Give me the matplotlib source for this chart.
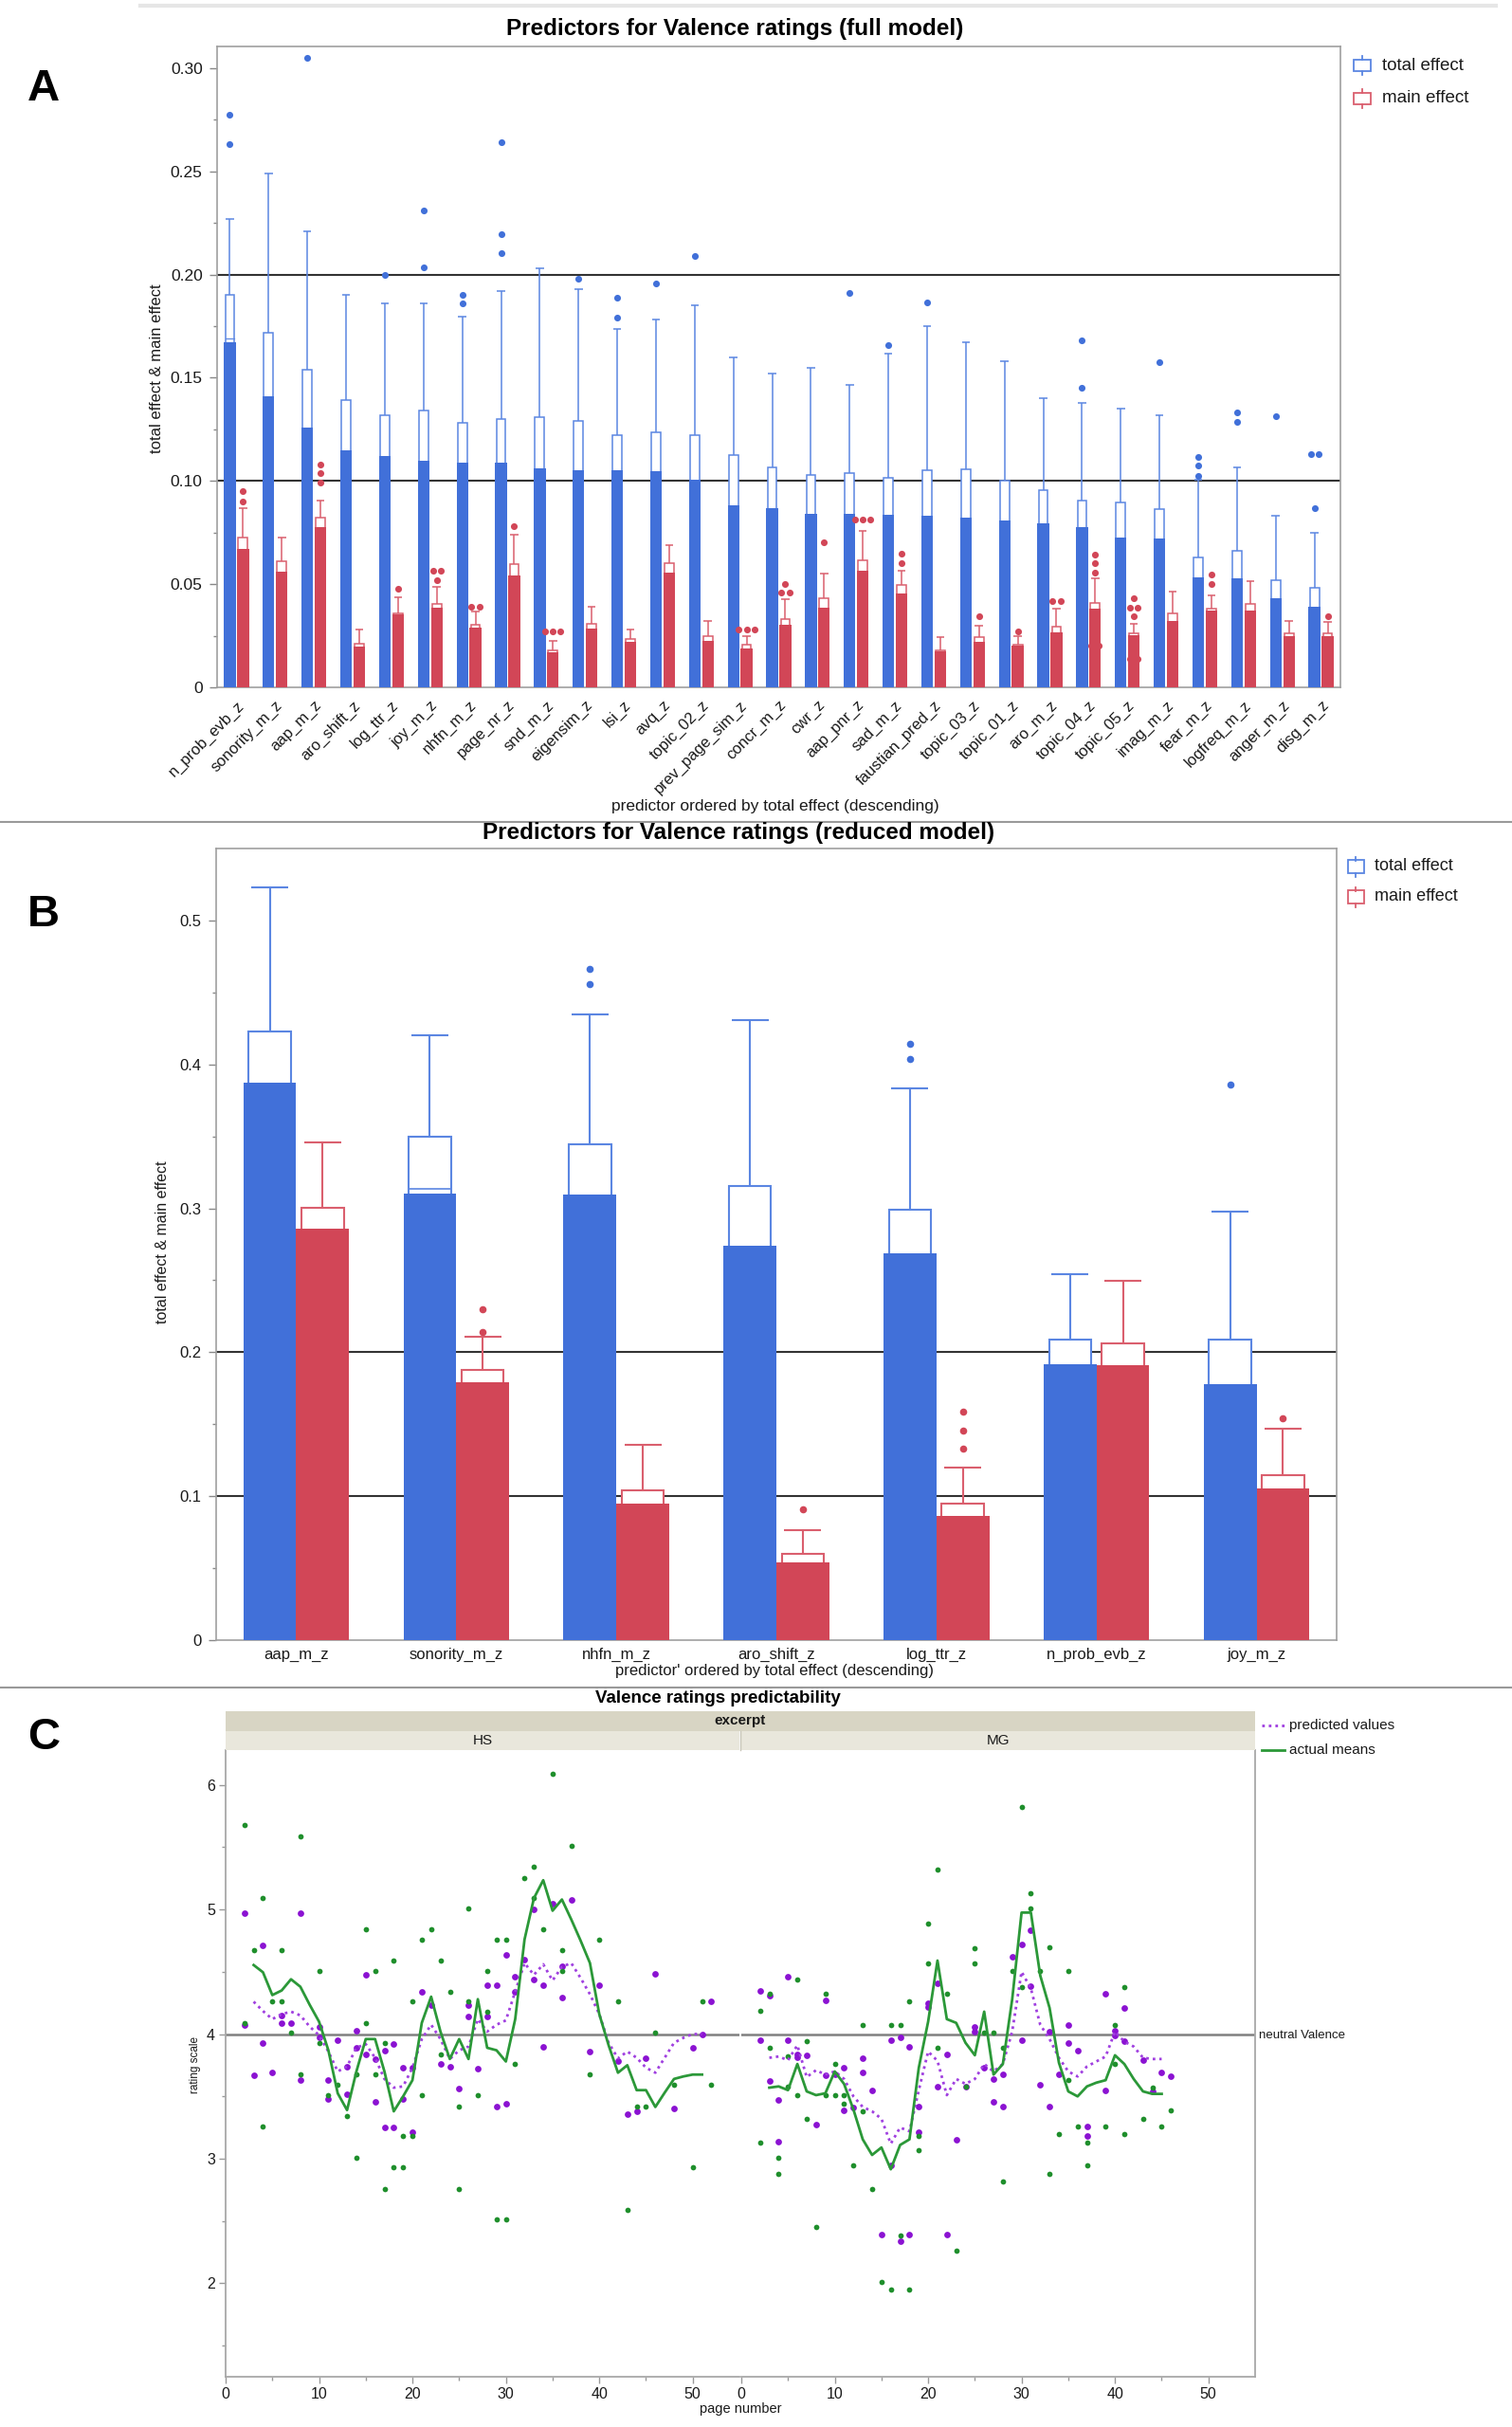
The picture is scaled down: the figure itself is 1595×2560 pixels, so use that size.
import numpy as np
import matplotlib
matplotlib.use('Agg')
import matplotlib.pyplot as plt
import matplotlib.transforms as mtransforms
from matplotlib.patches import Rectangle
from matplotlib.lines import Line2D

# ---------------- panel A: full model ----------------
a_names = ['n_prob_evb_z', 'sonority_m_z', 'aap_m_z', 'aro_shift_z', 'log_ttr_z', 'joy_m_z',
           'nhfn_m_z', 'page_nr_z', 'snd_m_z', 'eigensim_z', 'lsi_z', 'avq_z', 'topic_02_z',
           'prev_page_sim_z', 'concr_m_z', 'cwr_z', 'aap_pnr_z', 'sad_m_z', 'faustian_pred_z',
           'topic_03_z', 'topic_01_z', 'aro_m_z', 'topic_04_z', 'topic_05_z', 'imag_m_z',
           'fear_m_z', 'logfreq_m_z', 'anger_m_z', 'disg_m_z']
a_total_bar = [0.167, 0.141, 0.126, 0.115, 0.112, 0.110, 0.109, 0.109, 0.106, 0.105, 0.105,
               0.1045, 0.1004, 0.088, 0.087, 0.084, 0.084, 0.0838, 0.0833, 0.082, 0.0807,
               0.0795, 0.0774, 0.0726, 0.0723, 0.0535, 0.0527, 0.043, 0.0392]
a_total_q3 = [0.190, 0.172, 0.154, 0.139, 0.132, 0.134, 0.128, 0.130, 0.131, 0.129, 0.122,
              0.1235, 0.122, 0.1126, 0.1067, 0.103, 0.1037, 0.1014, 0.105, 0.1057, 0.100,
              0.0955, 0.0904, 0.0897, 0.0863, 0.063, 0.066, 0.052, 0.0484]
a_total_whisk = [0.227, 0.249, 0.221, 0.190, 0.186, 0.186, 0.1796, 0.192, 0.203, 0.193, 0.1737,
                 0.178, 0.185, 0.160, 0.152, 0.1546, 0.1467, 0.1615, 0.175, 0.1673, 0.158,
                 0.140, 0.138, 0.135, 0.132, 0.1006, 0.1067, 0.0833, 0.0749]
a_total_med = [0.169] + [np.nan] * 28
a_total_out = [[0.263, 0.2776], [], [0.305], [], [0.200], [0.2035, 0.231], [0.186, 0.190],
               [0.2104, 0.2196, 0.264], [], [0.198], [0.179, 0.189], [0.1956], [0.209], [], [],
               [], [0.191], [0.166], [0.1867], [], [], [], [0.145, 0.168], [], [0.1577],
               [0.1024, 0.1075, 0.1118], [0.1284, 0.133], [0.1314], [0.0869, 0.1128, 0.1128]]
a_main_bar = [0.0672, 0.056, 0.0774, 0.0196, 0.0354, 0.0387, 0.029, 0.054, 0.017, 0.0285, 0.022,
              0.0558, 0.0227, 0.019, 0.0303, 0.0387, 0.0565, 0.0456, 0.0176, 0.022, 0.020,
              0.0265, 0.038, 0.0252, 0.0323, 0.0374, 0.0374, 0.0247, 0.0247]
a_main_q3 = [0.0728, 0.061, 0.082, 0.021, 0.036, 0.0405, 0.0303, 0.0596, 0.018, 0.031, 0.0234,
             0.0604, 0.0247, 0.0205, 0.0329, 0.043, 0.0616, 0.0494, 0.018, 0.0242, 0.0205,
             0.0295, 0.041, 0.026, 0.036, 0.038, 0.0405, 0.026, 0.026]
a_main_whisk = [0.0869, 0.0726, 0.0907, 0.0278, 0.0436, 0.0487, 0.0367, 0.0739, 0.0227, 0.039,
                0.0278, 0.0688, 0.0323, 0.0247, 0.0425, 0.0553, 0.076, 0.0565, 0.0242, 0.0298,
                0.0247, 0.038, 0.0527, 0.031, 0.0464, 0.0446, 0.0515, 0.0323, 0.0316]
a_main_med = [np.nan] * 29
a_main_out = [[0.090, 0.095], [], [0.0993, 0.1037, 0.108], [], [0.0476], [0.0517, 0.0563, 0.0563],
              [0.0392, 0.0392], [0.078], [0.027, 0.027, 0.027], [], [], [], [],
              [0.028, 0.028, 0.028], [0.0458, 0.0458, 0.050], [0.0705], [0.0813, 0.0813, 0.0813],
              [0.0604, 0.0647], [], [0.0344], [0.027], [0.0418, 0.0418],
              [0.020, 0.020, 0.0558, 0.060, 0.0644], [0.014, 0.014, 0.0344, 0.0387, 0.0387, 0.043],
              [], [0.050, 0.0548], [], [], [0.0344]]

# ---------------- panel B: reduced model ----------------
b_names = ['aap_m_z', 'sonority_m_z', 'nhfn_m_z', 'aro_shift_z', 'log_ttr_z', 'n_prob_evb_z', 'joy_m_z']
b_total_bar = [0.387, 0.310, 0.3095, 0.274, 0.269, 0.192, 0.178]
b_total_q3 = [0.423, 0.3495, 0.3445, 0.3154, 0.299, 0.209, 0.209]
b_total_whisk = [0.523, 0.4205, 0.4348, 0.431, 0.3836, 0.2545, 0.2975]
b_total_med = [np.nan, 0.3134, np.nan, np.nan, np.nan, np.nan, np.nan]
b_total_out = [[], [], [0.4558, 0.4663], [], [0.404, 0.414], [], [0.386]]
b_main_bar = [0.2859, 0.1792, 0.0946, 0.0543, 0.0865, 0.1908, 0.1055]
b_main_q3 = [0.3006, 0.1874, 0.1043, 0.060, 0.0946, 0.2064, 0.1148]
b_main_whisk = [0.3456, 0.211, 0.1354, 0.0764, 0.120, 0.2494, 0.147]
b_main_med = [np.nan] * 7
b_main_out = [[], [0.214, 0.2296], [], [0.0908], [0.133, 0.1458, 0.1587], [], [0.1544]]

# ---------------- panel C: predictability ----------------
hs_act_page = [2, 2, 3, 4, 4, 5, 6, 6, 7, 8, 8, 10, 10, 11, 12, 13, 14, 14, 15, 15, 16, 16, 17, 17,
               18, 18, 19, 19, 20, 20, 21, 21, 22, 23, 23, 24, 25, 25, 26, 26, 27, 28, 28, 29, 29,
               30, 30, 31, 32, 33, 33, 34, 35, 36, 36, 37, 39, 40, 42, 43, 44, 45, 46, 48, 50, 51, 52]
hs_act_val = [5.675, 4.09, 4.675, 5.09, 3.26, 4.26, 4.675, 4.26, 4.01, 5.59, 3.675, 4.51, 3.93,
              3.51, 3.59, 3.34, 3.675, 3.01, 4.84, 4.09, 4.51, 3.675, 3.93, 2.76, 4.59, 2.93, 3.18,
              2.93, 4.26, 3.18, 4.76, 3.51, 4.84, 4.59, 3.84, 4.34, 3.42, 2.76, 5.01, 4.26, 3.51,
              4.51, 4.18, 4.76, 2.51, 4.76, 2.51, 3.76, 5.255, 5.34, 5.09, 4.84, 6.087, 4.675, 4.51,
              5.51, 3.675, 4.76, 4.26, 2.59, 3.42, 3.42, 4.01, 3.59, 2.93, 4.26, 3.59]
hs_pred_page = [2, 2, 3, 4, 4, 5, 6, 6, 7, 8, 8, 10, 10, 11, 11, 12, 13, 13, 14, 14, 15, 15, 16, 16,
                17, 17, 18, 18, 19, 19, 20, 20, 21, 22, 23, 24, 25, 26, 26, 27, 28, 28, 29, 29, 30,
                30, 31, 31, 32, 33, 33, 34, 34, 35, 36, 36, 37, 39, 40, 42, 43, 44, 45, 46, 48, 50, 51, 52]
hs_pred_val = [4.97, 4.075, 3.67, 4.71, 3.93, 3.69, 4.15, 4.09, 4.09, 4.97, 3.63, 4.06, 3.97, 3.63,
               3.48, 3.95, 3.74, 3.52, 4.03, 3.89, 4.475, 3.84, 3.80, 3.46, 3.87, 3.25, 3.92, 3.25,
               3.73, 3.48, 3.73, 3.21, 4.34, 4.23, 3.76, 3.74, 3.56, 4.23, 4.14, 3.72, 4.39, 4.14,
               4.39, 3.415, 4.635, 3.44, 4.46, 4.34, 4.60, 5.00, 4.435, 4.39, 3.90, 5.045, 4.545,
               4.29, 5.075, 3.86, 4.39, 3.785, 3.36, 3.38, 3.81, 4.48, 3.40, 3.89, 4.00, 4.26]
hs_line_page = list(range(3, 52))
hs_mean_line = [4.554, 4.496, 4.313, 4.35, 4.44, 4.38, 4.235, 4.10, 3.87, 3.525, 3.39, 3.70, 3.96,
                3.96, 3.70, 3.38, 3.50, 3.63, 4.09, 4.30, 4.02, 3.80, 3.96, 3.80, 4.28, 3.89, 3.87,
                3.78, 4.12, 4.76, 5.09, 5.235, 4.99, 5.08, 4.92, 4.75, 4.57, 4.16, 3.91, 3.69, 3.75,
                3.55, 3.55, 3.415, 3.53, 3.64, 3.66, 3.675, 3.675]
hs_pred_line = [4.26, 4.185, 4.12, 4.16, 4.18, 4.15, 4.06, 3.99, 3.86, 3.70, 3.74, 3.89, 3.92, 3.81,
                3.64, 3.57, 3.58, 3.73, 3.96, 4.075, 3.96, 3.80, 3.87, 3.90, 4.12, 4.02, 4.075, 4.11,
                4.34, 4.57, 4.475, 4.56, 4.43, 4.54, 4.57, 4.45, 4.32, 4.16, 3.93, 3.805, 3.86, 3.81,
                3.73, 3.69, 3.81, 3.93, 3.97, 4.00, 4.00]

mg_act_page = [2, 2, 3, 3, 4, 4, 5, 5, 6, 6, 7, 7, 8, 9, 9, 10, 10, 11, 11, 12, 13, 13, 14, 15, 16,
               16, 17, 17, 18, 18, 19, 19, 20, 20, 21, 21, 22, 23, 24, 25, 25, 26, 27, 28, 28, 29,
               30, 30, 31, 31, 32, 33, 33, 34, 35, 35, 36, 37, 37, 39, 40, 40, 41, 41, 43, 44, 45, 46]
mg_act_val = [4.19, 3.13, 4.32, 3.89, 3.01, 2.88, 3.82, 3.58, 4.44, 3.51, 3.945, 3.32, 2.45, 4.32,
              3.51, 3.76, 3.51, 3.51, 3.44, 2.945, 4.075, 3.38, 2.76, 2.01, 4.075, 1.95, 4.075, 2.385,
              4.26, 1.95, 3.185, 3.07, 4.885, 4.57, 5.32, 3.89, 4.32, 2.26, 3.58, 4.69, 4.57, 4.01,
              4.01, 3.89, 2.82, 4.51, 5.82, 4.38, 5.13, 5.01, 4.51, 4.70, 2.88, 3.20, 4.51, 3.635,
              3.26, 3.13, 2.945, 3.26, 4.075, 3.76, 4.38, 3.20, 3.32, 3.57, 3.26, 3.385]
mg_pred_page = [2, 2, 3, 3, 4, 4, 5, 5, 6, 6, 7, 8, 9, 9, 10, 11, 11, 12, 13, 13, 14, 15, 16, 16,
                17, 17, 18, 18, 19, 19, 20, 20, 21, 21, 22, 22, 23, 24, 25, 25, 26, 27, 27, 28, 28,
                29, 30, 30, 31, 31, 32, 33, 33, 34, 35, 35, 36, 37, 37, 39, 39, 40, 40, 41, 41, 43,
                44, 45, 46]
mg_pred_val = [4.345, 3.95, 4.31, 3.62, 3.475, 3.14, 4.46, 3.95, 3.815, 3.84, 3.83, 3.275, 4.27,
               3.67, 3.675, 3.73, 3.39, 3.41, 3.81, 3.69, 3.55, 2.39, 3.95, 2.945, 3.97, 2.335, 3.90,
               2.39, 3.415, 3.21, 4.25, 4.22, 4.41, 3.58, 3.84, 2.39, 3.15, 3.58, 4.06, 4.02, 3.73,
               3.64, 3.46, 3.42, 3.68, 4.62, 4.72, 3.95, 4.835, 4.385, 3.59, 4.02, 3.42, 3.68, 4.07,
               3.93, 3.87, 3.26, 3.18, 4.32, 3.55, 4.03, 3.99, 4.21, 3.945, 3.79, 3.54, 3.69, 3.66]
mg_line_page = list(range(3, 46))
mg_mean_line = [3.57, 3.58, 3.55, 3.76, 3.54, 3.51, 3.525, 3.70, 3.60, 3.395, 3.155, 3.03, 3.09,
                2.915, 3.11, 3.155, 3.73, 4.10, 4.59, 4.12, 4.09, 3.93, 3.83, 4.18, 3.675, 3.76,
                4.28, 4.975, 4.975, 4.47, 4.21, 3.77, 3.54, 3.50, 3.58, 3.61, 3.63, 3.83, 3.76,
                3.64, 3.54, 3.52, 3.52]
mg_pred_line = [3.81, 3.82, 3.79, 3.91, 3.655, 3.71, 3.675, 3.70, 3.64, 3.50, 3.415, 3.38, 3.32,
                3.12, 3.25, 3.22, 3.55, 3.86, 3.785, 3.51, 3.64, 3.60, 3.64, 3.76, 3.70, 3.76, 4.02,
                4.50, 4.365, 4.075, 3.96, 3.81, 3.70, 3.66, 3.74, 3.78, 3.82, 4.02, 3.94, 3.90,
                3.81, 3.80, 3.80]

W, H = 1595, 2560
plt.rcParams['font.family'] = ['Liberation Sans', 'DejaVu Sans']
BLUE, BLUE_L = '#4170d9', '#5b86e2'
RED, RED_L = '#d24657', '#da5f6e'
GREEN, PURPLE = '#1f8f2c', '#8b12d2'
TXT = '#1a1a1a'

fig = plt.figure(figsize=(W / 100, H / 100), dpi=100)


def rect(l, t, r, b):
    return [l / W, 1 - b / H, (r - l) / W, (b - t) / H]


def fx(x):
    return x / W


def fy(y):
    return 1 - y / H


def draw_effects(ax, xs, bar, q3, whisk, med, outs, fill, edge, width, lw, dot, step):
    ax.bar(xs, q3, width * 0.8, color='white', edgecolor=edge, linewidth=lw, zorder=2)
    ax.bar(xs, bar, width, color=fill, linewidth=0, zorder=3)
    ax.vlines(xs, q3, whisk, colors=edge, lw=lw, zorder=2)
    ax.hlines(whisk, xs - width * 0.35, xs + width * 0.35, colors=edge, lw=lw, zorder=2)
    for x, m in zip(xs, med):
        if not np.isnan(m):
            ax.plot([x - width * 0.4, x + width * 0.4], [m, m], color=edge, lw=lw * 0.8, zorder=3.5)
    for x, vals in zip(xs, outs):
        offs = []
        for i, v in enumerate(vals):
            same = [j for j, u in enumerate(vals) if u == v]
            offs.append((same.index(i) - (len(same) - 1) / 2) * step)
        if vals:
            ax.scatter(x + np.array(offs), vals, s=dot, color=fill, linewidths=0, zorder=4)


def legend_icon(xc, yc, color, w, h, ext, lw):
    fig.add_artist(Rectangle((fx(xc - w / 2), fy(yc + h / 2)), w / W, h / H, transform=fig.transFigure,
                             facecolor='white', edgecolor=color, lw=lw))
    fig.add_artist(Line2D([fx(xc)] * 2, [fy(yc - h / 2 - ext), fy(yc - h / 2)], color=color, lw=lw))
    fig.add_artist(Line2D([fx(xc)] * 2, [fy(yc + h / 2), fy(yc + h / 2 + ext)], color=color, lw=lw))


def style_box_axes(ax):
    for s in ax.spines.values():
        s.set_color('#a0a0a0')
        s.set_linewidth(1.2)


# ---------- A ----------
axA = fig.add_axes(rect(229, 49, 1414, 725))
xa = np.arange(len(a_names))
axA.axhline(0.1, color='#333333', lw=1.5, zorder=1)
axA.axhline(0.2, color='#333333', lw=1.5, zorder=1)
draw_effects(axA, xa - 0.17, a_total_bar, a_total_q3, a_total_whisk, a_total_med, a_total_out,
             BLUE, BLUE_L, 0.30, 1.1, 26, 0.2)
draw_effects(axA, xa + 0.17, a_main_bar, a_main_q3, a_main_whisk, a_main_med, a_main_out,
             RED, RED_L, 0.30, 1.1, 26, 0.2)
axA.set_xlim(-0.5, 28.5)
axA.set_ylim(0, 0.3105)
axA.set_yticks([0, 0.05, 0.10, 0.15, 0.20, 0.25, 0.30])
axA.set_yticklabels(['0', '0.05', '0.10', '0.15', '0.20', '0.25', '0.30'])
axA.set_yticks(np.arange(0.025, 0.31, 0.05), minor=True)
axA.set_xticks(xa)
axA.set_xticklabels(a_names, rotation=45, ha='right', va='top', rotation_mode='anchor')
shift = mtransforms.ScaledTranslation(0.10, 0, fig.dpi_scale_trans)
for lab in axA.get_xticklabels():
    lab.set_transform(lab.get_transform() + shift)
axA.tick_params(axis='x', length=0, pad=8, labelsize=12, labelcolor=TXT)
axA.tick_params(axis='y', which='major', length=6, width=1, color='#888888', pad=5,
                labelsize=12.5, labelcolor=TXT)
axA.tick_params(axis='y', which='minor', length=3, width=1, color='#888888')
style_box_axes(axA)
fig.text(fx(165), fy(389), 'total effect & main effect', rotation=90, ha='center', va='center',
         fontsize=12, color=TXT)
fig.text(fx(818), fy(850), 'predictor ordered by total effect (descending)', ha='center',
         va='center', fontsize=12.5, color=TXT)
fig.text(fx(775), fy(30), 'Predictors for Valence ratings (full model)', ha='center', va='center',
         fontsize=17.5, fontweight='bold', color='black')
legend_icon(1437, 69, BLUE_L, 18, 12, 4, 1.3)
legend_icon(1437, 104, RED_L, 18, 12, 4, 1.3)
fig.text(fx(1458), fy(69), 'total effect', ha='left', va='center', fontsize=13.5, color=TXT)
fig.text(fx(1458), fy(104), 'main effect', ha='left', va='center', fontsize=13.5, color=TXT)

# ---------- B ----------
axB = fig.add_axes(rect(228, 895, 1410, 1730))
xb = np.arange(len(b_names))
axB.axhline(0.1, color='#333333', lw=1.5, zorder=1)
axB.axhline(0.2, color='#333333', lw=1.5, zorder=1)
draw_effects(axB, xb - 0.165, b_total_bar, b_total_q3, b_total_whisk, b_total_med, b_total_out,
             BLUE, BLUE_L, 0.33, 1.5, 30, 0.1)
draw_effects(axB, xb + 0.165, b_main_bar, b_main_q3, b_main_whisk, b_main_med, b_main_out,
             RED, RED_L, 0.33, 1.5, 30, 0.1)
axB.set_xlim(-0.5, 6.5)
axB.set_ylim(0, 0.55)
axB.set_yticks([0, 0.1, 0.2, 0.3, 0.4, 0.5])
axB.set_yticklabels(['0', '0.1', '0.2', '0.3', '0.4', '0.5'])
axB.set_yticks(np.arange(0.05, 0.55, 0.1), minor=True)
axB.set_xticks(xb)
axB.set_xticklabels(b_names)
axB.tick_params(axis='x', length=0, pad=6, labelsize=12, labelcolor=TXT)
axB.tick_params(axis='y', which='major', length=6, width=1, color='#888888', pad=5,
                labelsize=12, labelcolor=TXT)
axB.tick_params(axis='y', which='minor', length=3, width=1, color='#888888')
style_box_axes(axB)
fig.text(fx(172), fy(1310), 'total effect & main effect', rotation=90, ha='center', va='center',
         fontsize=11.5, color=TXT)
fig.text(fx(817), fy(1762), "predictor' ordered by total effect (descending)", ha='center',
         va='center', fontsize=12, color=TXT)
fig.text(fx(779), fy(879), 'Predictors for Valence ratings (reduced model)', ha='center',
         va='center', fontsize=17.5, fontweight='bold', color='black')
legend_icon(1430, 914, BLUE_L, 17, 13, 4, 1.3)
legend_icon(1430, 946, RED_L, 17, 13, 4, 1.3)
fig.text(fx(1450), fy(914), 'total effect', ha='left', va='center', fontsize=13, color=TXT)
fig.text(fx(1450), fy(946), 'main effect', ha='left', va='center', fontsize=13, color=TXT)

# ---------- C ----------
facets = [
    ('HS', 238, 780, hs_act_page, hs_act_val, hs_pred_page, hs_pred_val, hs_line_page,
     hs_mean_line, hs_pred_line),
    ('MG', 782, 1324, mg_act_page, mg_act_val, mg_pred_page, mg_pred_val, mg_line_page,
     mg_mean_line, mg_pred_line),
]
for k, (name, l, r, ap, av, pp, pv, lp, ml, pl) in enumerate(facets):
    ax = fig.add_axes(rect(l, 1846, r, 2507))
    ax.axhline(4, color='#808080', lw=1.8, zorder=1)
    ax.scatter(pp, pv, s=24, color=PURPLE, linewidths=0, zorder=2)
    ax.scatter(ap, av, s=17, color=GREEN, linewidths=0, zorder=3)
    ax.plot(lp, pl, color='#a040e0', lw=2.0, linestyle=(0, (1, 1.5)), zorder=4)
    ax.plot(lp, ml, color='#2b9838', lw=2.0, zorder=5)
    ax.set_xlim(0, 55)
    ax.set_ylim(1.25, 6.279)
    ax.set_xticks([0, 10, 20, 30, 40, 50])
    ax.set_xticks([5, 15, 25, 35, 45], minor=True)
    ax.set_yticks([2, 3, 4, 5, 6])
    ax.set_yticks([1.5, 2.5, 3.5, 4.5, 5.5], minor=True)
    ax.tick_params(which='major', length=5, width=1, color='#999999', labelsize=11.5,
                   labelcolor=TXT, pad=3)
    ax.tick_params(which='minor', length=3, width=1, color='#999999')
    for s in ax.spines.values():
        s.set_color('#a8a8a8')
        s.set_linewidth(1.3)
    ax.spines['top'].set_visible(False)
    if k == 0:
        ax.spines['right'].set_visible(False)
    else:
        ax.spines['left'].set_visible(False)
        ax.tick_params(axis='y', which='both', left=False, labelleft=False)
    fig.add_artist(Rectangle((fx(l), fy(1846)), (r - l) / W, 20 / H, transform=fig.transFigure,
                             facecolor='#e9e7dc', edgecolor='none'))
    fig.text(fx((l + r) / 2), fy(1836), name, ha='center', va='center', fontsize=11, color=TXT)

fig.add_artist(Rectangle((fx(238), fy(1826)), (1324 - 238) / W, 21 / H, transform=fig.transFigure,
                         facecolor='#d8d5c4', edgecolor='none'))
fig.add_artist(Line2D([fx(781)] * 2, [fy(1846), fy(1826)], color='#c8c6b8', lw=1))
fig.text(fx(781), fy(1815), 'excerpt', ha='center', va='center', fontsize=11,
         fontweight='bold', color=TXT)
fig.text(fx(757), fy(1792), 'Valence ratings predictability', ha='center', va='center',
         fontsize=13.5, fontweight='bold', color='black')
fig.text(fx(206), fy(2178), 'rating scale', rotation=90, ha='center', va='center', fontsize=8.5,
         color=TXT)
fig.text(fx(781), fy(2541), 'page number', ha='center', va='center', fontsize=10.5, color=TXT)
fig.text(fx(1328), fy(2147), 'neutral Valence', ha='left', va='center', fontsize=9.5, color=TXT)
fig.add_artist(Line2D([fx(1331), fx(1355)], [fy(1820)] * 2, color='#a040e0', lw=2.0,
                      linestyle=(0, (1, 1.5))))
fig.add_artist(Line2D([fx(1331), fx(1355)], [fy(1846)] * 2, color='#2b9838', lw=2.0))
fig.text(fx(1360), fy(1820), 'predicted values', ha='left', va='center', fontsize=11, color=TXT)
fig.text(fx(1360), fy(1846), 'actual means', ha='left', va='center', fontsize=11, color=TXT)

# ---------- panel letters and separators ----------
for letter, y in [('A', 94), ('B', 965), ('C', 1833)]:
    fig.text(fx(46), fy(y), letter, ha='center', va='center', fontsize=34, fontweight='bold',
             color='black')
fig.add_artist(Line2D([fx(148), fx(1578)], [fy(6)] * 2, color='#e6e6e6', lw=3))
fig.add_artist(Line2D([0, 1], [fy(867)] * 2, color='#9a9a9a', lw=1.5))
fig.add_artist(Line2D([0, 1], [fy(1780)] * 2, color='#9a9a9a', lw=1.5))

fig.savefig('out.png', dpi=100, facecolor='white')
